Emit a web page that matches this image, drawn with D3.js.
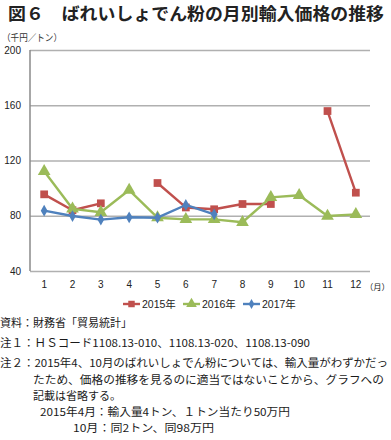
<!DOCTYPE html>
<html><head><meta charset="utf-8">
<script src="https://cdn.jsdelivr.net/npm/d3@7"></script>
<style>
html,body{margin:0;padding:0;background:#fff;}
svg{display:block;}
</style>
</head><body>
<svg id="c" width="391" height="440"></svg>
<script>
const months = ["1","2","3","4","5","6","7","8","9","10","11","12"];
const yTicks = [40, 80, 120, 160, 200];
const seriesNames = ["2015年", "2016年", "2017年"];
const v2015 = [95.5, 84, 89, null, 103.7, 86, 84.7, 88.5, 88.5, null, 155.8, 96.7];
const v2016 = [112.2, 85, 82.5, 98.6, 78.6, 77.4, 77.4, 75.3, 93.3, 94.8, 79.8, 81];
const v2017 = [83.7, 79.8, 77.2, 78.9, 78.6, 87.8, 81, null, null, null, null, null];
const colors = ["#C0504D", "#9BBB59", "#4F81BD"];
const markers = [d3.symbolSquare, d3.symbolTriangle, d3.symbolDiamond];
const markerSizes = [60, 70, 40];

const title = "図６　ばれいしょでん粉の月別輸入価格の推移";
const unitLabel = "（千円／トン）";
const monthUnit = "（月）";
const notes = [
  {t:"資料：財務省「貿易統計」", x:0, y:323, w:null},
  {t:"注１：ＨＳコード1108.13-010、1108.13-020、1108.13-090", x:0, y:343, w:310},
  {t:"注２：2015年4、10月のばれいしょでん粉については、輸入量がわずかだっ", x:0, y:363, w:388},
  {t:"たため、価格の推移を見るのに適当ではないことから、グラフへの", x:33, y:380, w:351},
  {t:"記載は省略する。", x:33, y:396, w:null},
  {t:"2015年4月：輸入量4トン、１トン当たり50万円", x:40, y:412, w:250},
  {t:"10月：同2トン、同98万円", x:73, y:428, w:141}
];

const svg = d3.select("#c");
const data = [v2015, v2016, v2017];

const x = d3.scaleBand().domain(months).range([30, 370]);
const y = d3.scaleLinear().domain([40, 200]).range([271, 50]);

// title
svg.append("text").attr("x", 8).attr("y", 20)
  .attr("font-family", "Noto Sans CJK JP").attr("font-weight", "bold")
  .attr("font-size", 17).attr("fill", "#222").attr("textLength", 376).attr("lengthAdjust","spacingAndGlyphs")
  .text(title);

svg.append("text").attr("x", 2).attr("y", 41)
  .attr("font-family", "Noto Sans CJK JP").attr("font-size", 9.5).attr("fill", "#333")
  .attr("textLength", 60).attr("lengthAdjust","spacingAndGlyphs")
  .text(unitLabel);

// gridlines
const yAxis = d3.axisLeft(y).tickValues(yTicks).tickSize(-(340)).tickPadding(9).tickFormat(d3.format("d"));
const gy = svg.append("g").attr("transform", "translate(30,0)").call(yAxis);
gy.select(".domain").remove();
gy.selectAll(".tick line").attr("stroke", "#b0b0b0").attr("stroke-width", 1.4);
gy.selectAll(".tick text").attr("font-family", "Liberation Sans, Arial").attr("font-size", 10).attr("fill", "#222");

// left axis line
svg.append("line").attr("x1", 30).attr("x2", 30).attr("y1", y(200)).attr("y2", y(40))
  .attr("stroke", "#8a8a8a").attr("stroke-width", 1.5);

// x axis labels
const xAxis = d3.axisBottom(x).tickSize(0).tickPadding(10);
const gx = svg.append("g").attr("transform", `translate(0,${y(40)})`).call(xAxis);
gx.select(".domain").remove();
gx.selectAll(".tick text").attr("font-family", "Liberation Sans, Arial").attr("font-size", 10).attr("fill", "#222");

svg.append("text").attr("x", 365).attr("y", 290)
  .attr("font-family", "Noto Sans CJK JP").attr("font-size", 8.3).attr("fill", "#222")
  .text(monthUnit);

// lines
const line = d3.line()
  .defined(d => d != null)
  .x((d, i) => x(months[i]) + x.bandwidth() / 2)
  .y(d => y(d));

data.forEach((vals, si) => {
  const g = svg.append("g");
  g.append("path").datum(vals).attr("d", line)
    .attr("fill", "none").attr("stroke", colors[si]).attr("stroke-width", 2.4)
    .attr("stroke-linejoin", "round");
  g.selectAll("path.m").data(vals.map((v, i) => ({v, i})).filter(d => d.v != null))
    .enter().append("path").attr("class", "m")
    .attr("transform", d => `translate(${x(months[d.i]) + x.bandwidth() / 2},${y(d.v)})`)
    .attr("d", d3.symbol().type(markers[si]).size(markerSizes[si]))
    .attr("fill", colors[si]);
});

// legend
const legX = [123, 183, 243];
seriesNames.forEach((n, i) => {
  const lg = svg.append("g").attr("transform", `translate(${legX[i]},304)`);
  lg.append("line").attr("x1", 0).attr("x2", 17).attr("y1", 0).attr("y2", 0)
    .attr("stroke", colors[i]).attr("stroke-width", 2.4);
  lg.append("path").attr("transform", "translate(8.5,0)")
    .attr("d", d3.symbol().type(markers[i]).size(markerSizes[i] * 0.7)).attr("fill", colors[i]);
  lg.append("text").attr("x", 19).attr("y", 4)
    .attr("font-family", "Liberation Sans, Noto Sans CJK JP").attr("font-size", 10.5).attr("fill", "#222")
    .text(n);
});

// notes
notes.forEach(nt => {
  const t = svg.append("text").attr("x", nt.x).attr("y", nt.y + 4)
    .attr("font-family", "Noto Sans CJK JP").attr("font-size", 11).attr("fill", "#1a1a1a")
    .text(nt.t);
  if (nt.w) t.attr("textLength", nt.w).attr("lengthAdjust", "spacingAndGlyphs");
});
</script>
</body></html>
